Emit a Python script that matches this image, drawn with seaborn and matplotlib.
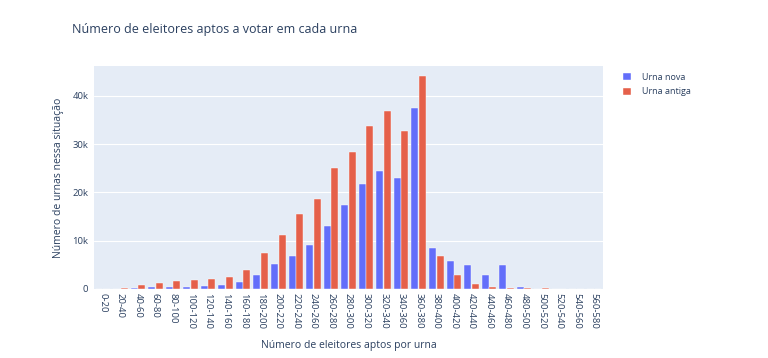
import matplotlib
matplotlib.use("Agg")
import matplotlib.pyplot as plt
import matplotlib.ticker as mticker
import seaborn as sns
import pandas as pd

categories = ["0-20", "20-40", "40-60", "60-80", "80-100", "100-120", "120-140", "140-160",
              "160-180", "180-200", "200-220", "220-240", "240-260", "260-280", "280-300",
              "300-320", "320-340", "340-360", "360-380", "380-400", "400-420", "420-440",
              "440-460", "460-480", "480-500", "500-520", "520-540", "540-560", "560-580"]
urna_nova = [20, 50, 200, 350, 400, 500, 600, 800, 1400, 3000, 5100, 6900, 9200, 13100, 17300,
             21700, 24400, 23100, 37600, 8400, 5700, 4900, 2850, 4900, 350, 70, 70, 20, 10]
urna_antiga = [100, 300, 750, 1200, 1600, 1800, 2000, 2400, 4000, 7500, 11250, 15500, 18600,
               25100, 28400, 33750, 36900, 32700, 44100, 6800, 2800, 1000, 350, 200, 200, 150,
               70, 20, 10]
series_names = ["Urna nova", "Urna antiga"]
colors = ["#636EFA", "#E5604A"]

df = pd.DataFrame({
    "faixa": categories * 2,
    "valor": urna_nova + urna_antiga,
    "tipo": [series_names[0]] * len(categories) + [series_names[1]] * len(categories),
})

sns.set_theme(style="white")
plt.rcParams["font.family"] = ["Open Sans", "DejaVu Sans"]
text_color = "#2a3f5f"

fig = plt.figure(figsize=(7.68, 3.58), dpi=100)
ax = fig.add_axes([94 / 768, 1 - 289 / 358, (603 - 94) / 768, (289 - 66) / 358])
ax.set_facecolor("#E5ECF6")

sns.barplot(data=df, x="faixa", y="valor", hue="tipo", order=categories,
            hue_order=series_names, palette=colors, saturation=1, width=0.86, gap=0.08,
            edgecolor="white", linewidth=0.3, ax=ax, legend=True)

ax.set_xlim(-0.5, len(categories) - 0.5)
ax.set_ylim(0, 46200)
ax.yaxis.set_major_locator(mticker.MultipleLocator(10000))
ax.yaxis.set_major_formatter(mticker.FuncFormatter(lambda v, p: "0" if v == 0 else f"{int(v/1000)}k"))
ax.grid(axis="y", color="white", linewidth=0.8)
ax.set_axisbelow(True)
for s in ax.spines.values():
    s.set_visible(False)

ax.tick_params(axis="x", labelrotation=-90, labelsize=6.8, colors=text_color, length=0, pad=3)
ax.tick_params(axis="y", labelsize=6.8, colors=text_color, length=0, pad=4)
for lbl in ax.get_xticklabels():
    lbl.set_verticalalignment("top")
    lbl.set_horizontalalignment("center")

ax.set_xlabel("Número de eleitores aptos por urna", fontsize=7.5, color=text_color, labelpad=8)
ax.set_ylabel("Número de urnas nessa situação", fontsize=7.5, color=text_color, labelpad=6)

fig.text(72 / 768, 1 - 30 / 358, "Número de eleitores aptos a votar em cada urna",
         fontsize=9.0, color=text_color, ha="left", va="center")

handles, labels = ax.get_legend_handles_labels()
ax.legend(handles, labels, loc="upper left", bbox_to_anchor=(619 / 768, 1 - 69 / 358),
          bbox_transform=fig.transFigure, frameon=False, fontsize=6.5,
          handlelength=0.9, handleheight=0.9, handletextpad=1.2, labelspacing=0.65,
          labelcolor=text_color, borderaxespad=0)

fig.savefig("out.png", dpi=100, facecolor="white")
